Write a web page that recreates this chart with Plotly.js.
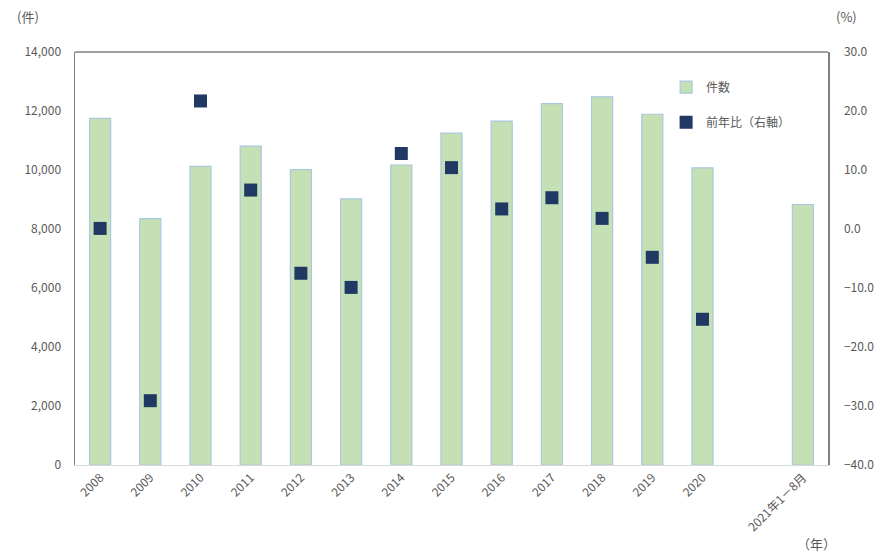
<!DOCTYPE html>
<html>
<head>
<meta charset="utf-8">
<script src="https://cdn.plot.ly/plotly-3.0.1.min.js"></script>
<style>html,body{margin:0;padding:0;background:#fff;}#chart{width:881px;height:553px;}</style>
</head>
<body>
<div id="chart"></div>
<script>
const categories = ["2008","2009","2010","2011","2012","2013","2014","2015","2016","2017","2018","2019","2020"," ","2021年1－8月"];
const counts = [11750, 8350, 10120, 10810, 10010, 9020, 10170, 11250, 11660, 12250, 12480, 11890, 10070, null, 8830];
const yoyPct = [0.1, -29.1, 21.7, 6.6, -7.5, -9.9, 12.8, 10.4, 3.4, 5.3, 1.8, -4.8, -15.3, null, null];
const leftTicks = [0, 2000, 4000, 6000, 8000, 10000, 12000, 14000];
const rightTicks = [-40, -30, -20, -10, 0, 10, 20, 30];

const FONT = "'Noto Sans CJK JP', 'Noto Sans', sans-serif";
const GREY = "#595959";

const traces = [
  {
    type: "bar", name: "件数", x: categories, y: counts,
    marker: {color: "#c5e0b4", line: {color: "#a9c8e0", width: 1.2}},
    legendgroup: "a", hoverinfo: "x+y"
  },
  {
    type: "scatter", mode: "markers", name: "前年比（右軸）", x: categories, y: yoyPct,
    yaxis: "y2",
    marker: {symbol: "square", size: 13, color: "#1f3864"},
    legendgroup: "b"
  }
];

const layout = {
  width: 881, height: 553,
  margin: {l: 75, r: 53, t: 52, b: 88},
  paper_bgcolor: "#fff", plot_bgcolor: "#fff",
  font: {family: FONT, color: GREY, size: 12},
  bargap: 0.58,
  showlegend: true,
  legend: {x: 0.785, y: 0.95, xanchor: "left", yanchor: "top", bgcolor: "rgba(0,0,0,0)",
           font: {size: 12, color: GREY}, tracegroupgap: 16, itemwidth: 30},
  xaxis: {
    type: "category", categoryorder: "array", categoryarray: categories,
    range: [-0.5, categories.length - 0.5], autorange: false,
    showline: true, linecolor: "#d9d9d9", linewidth: 1,
    showgrid: false, ticks: "", tickangle: -45,
    tickfont: {size: 12, color: GREY}, fixedrange: true
  },
  yaxis: {
    range: [0, 14000], tickvals: leftTicks, tickformat: ",",
    showline: true, linecolor: "#808080", linewidth: 1.5,
    showgrid: false, zeroline: false, ticks: "", ticklabelstandoff: 10,
    tickfont: {size: 12, color: GREY}
  },
  yaxis2: {
    overlaying: "y", side: "right", range: [-40, 30], tickvals: rightTicks, tickformat: ".1f",
    showline: true, linecolor: "#808080", linewidth: 1.5,
    showgrid: false, zeroline: false, ticks: "", ticklabelstandoff: 12,
    tickfont: {size: 12, color: GREY}
  },
  shapes: [
    {type: "line", xref: "paper", yref: "paper", x0: 0, x1: 1, y0: 1, y1: 1,
     line: {color: "#808080", width: 1.5}}
  ],
  annotations: [
    {text: "(件)", xref: "paper", yref: "paper", x: -0.062, y: 1.085, showarrow: false,
     font: {size: 13, color: GREY}, xanchor: "center", yanchor: "middle"},
    {text: "(%)", xref: "paper", yref: "paper", x: 1.025, y: 1.085, showarrow: false,
     font: {size: 13, color: GREY}, xanchor: "center", yanchor: "middle"},
    {text: "（年）", xref: "paper", yref: "paper", x: 0.985, y: -0.19, showarrow: false,
     font: {size: 13, color: GREY}, xanchor: "center", yanchor: "middle"}
  ]
};

Plotly.newPlot("chart", traces, layout, {displayModeBar: false, staticPlot: true});
</script>
</body>
</html>
